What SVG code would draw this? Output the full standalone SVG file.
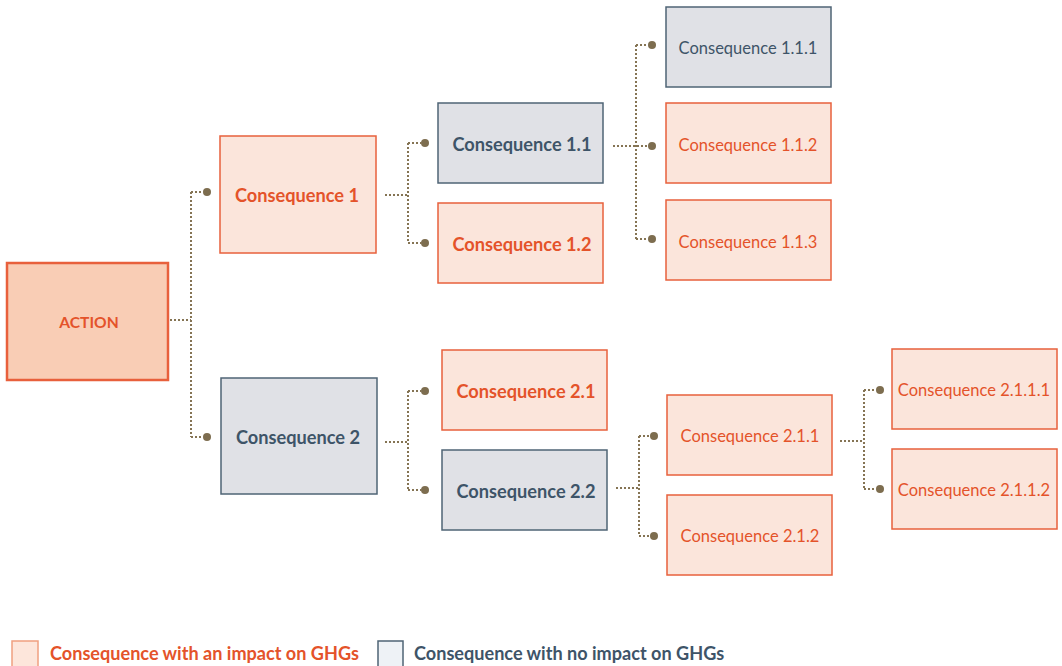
<svg xmlns="http://www.w3.org/2000/svg" width="1062" height="666" viewBox="0 0 1062 666">
  <style>
    .impact rect { fill: #fbe5db; stroke: #e8603c; stroke-width: 1.5; }
    .neutral rect { fill: #e0e1e6; stroke: #4f6475; stroke-width: 1.5; }
    .action rect { fill: #f9cdb5; stroke: #e8603c; stroke-width: 2.5; }
    text { font-family: Lato, "Liberation Sans", sans-serif; text-anchor: middle; }
    .impact text, .action text { fill: #e4532a; }
    .neutral text { fill: #3e5468; }
    .b { font-weight: 700; font-size: 18.2px; }
    .r { font-weight: 400; font-size: 16.5px; }
    #connectors path { fill: none; stroke: #857454; stroke-width: 2; stroke-dasharray: 2 2; }
    #connectors circle { fill: #7d6d4f; }
    .legend text { text-anchor: start; font-weight: 700; font-size: 18.1px; }
  </style>

  <!-- connectors -->
  <g id="connectors">
    <path d="M170 320 H191 M191 192 V437 M191 192 H203 M191 437 H203"/>
    <circle cx="207" cy="192" r="4"/>
    <circle cx="207" cy="437" r="4"/>

    <path d="M385 195 H408 M408 143 V243 M408 143 H421 M408 243 H421"/>
    <circle cx="425" cy="143" r="4"/>
    <circle cx="425" cy="243" r="4"/>

    <path d="M613 146 H648 M636 45 V239 M636 45 H648 M636 239 H648"/>
    <circle cx="652" cy="45" r="4"/>
    <circle cx="652" cy="146" r="4"/>
    <circle cx="652" cy="239" r="4"/>

    <path d="M385 442 H408 M408 391 V490 M408 391 H421 M408 490 H421"/>
    <circle cx="425" cy="391" r="4"/>
    <circle cx="425" cy="490" r="4"/>

    <path d="M616 488 H639 M639 436 V536 M639 436 H650 M639 536 H650"/>
    <circle cx="654" cy="436" r="4"/>
    <circle cx="654" cy="536" r="4"/>

    <path d="M840 441 H864 M864 390 V489 M864 390 H876 M864 489 H876"/>
    <circle cx="880" cy="390" r="4"/>
    <circle cx="880" cy="489" r="4"/>
  </g>

  <!-- nodes -->
  <g id="action" class="action">
    <rect x="7" y="263" width="161" height="117"/>
    <text class="b" x="89" y="328" style="font-size:15.6px">ACTION</text>
  </g>

  <g id="c1" class="impact">
    <rect x="220" y="136" width="156" height="117"/>
    <text class="b" x="297" y="202">Consequence 1</text>
  </g>
  <g id="c2" class="neutral">
    <rect x="221" y="378" width="156" height="116"/>
    <text class="b" x="298" y="444">Consequence 2</text>
  </g>

  <g id="c1-1" class="neutral">
    <rect x="438" y="103" width="165" height="80"/>
    <text class="b" x="522" y="151">Consequence 1.1</text>
  </g>
  <g id="c1-2" class="impact">
    <rect x="438" y="203" width="165" height="80"/>
    <text class="b" x="522" y="251">Consequence 1.2</text>
  </g>
  <g id="c2-1" class="impact">
    <rect x="442" y="350" width="165" height="80"/>
    <text class="b" x="526" y="398">Consequence 2.1</text>
  </g>
  <g id="c2-2" class="neutral">
    <rect x="442" y="450" width="165" height="80"/>
    <text class="b" x="526" y="498">Consequence 2.2</text>
  </g>

  <g id="c1-1-1" class="neutral">
    <rect x="666" y="7" width="165" height="80"/>
    <text class="r" x="748" y="54">Consequence 1.1.1</text>
  </g>
  <g id="c1-1-2" class="impact">
    <rect x="666" y="103" width="165" height="80"/>
    <text class="r" x="748" y="151">Consequence 1.1.2</text>
  </g>
  <g id="c1-1-3" class="impact">
    <rect x="666" y="200" width="165" height="80"/>
    <text class="r" x="748" y="248">Consequence 1.1.3</text>
  </g>
  <g id="c2-1-1" class="impact">
    <rect x="667" y="395" width="165" height="80"/>
    <text class="r" x="750" y="442">Consequence 2.1.1</text>
  </g>
  <g id="c2-1-2" class="impact">
    <rect x="667" y="495" width="165" height="80"/>
    <text class="r" x="750" y="542">Consequence 2.1.2</text>
  </g>

  <g id="c2-1-1-1" class="impact">
    <rect x="892" y="349" width="165" height="80"/>
    <text class="r" x="974" y="396">Consequence 2.1.1.1</text>
  </g>
  <g id="c2-1-1-2" class="impact">
    <rect x="892" y="449" width="165" height="80"/>
    <text class="r" x="974" y="496">Consequence 2.1.1.2</text>
  </g>

  <!-- legend -->
  <g id="legend-impact" class="legend">
    <rect x="12" y="641" width="26" height="26" fill="#fde6db" stroke="#f0a080" stroke-width="1.5"/>
    <text x="50" y="660" fill="#e4532a">Consequence with an impact on GHGs</text>
  </g>
  <g id="legend-neutral" class="legend">
    <rect x="378" y="641" width="25" height="26" fill="#eef2f6" stroke="#4f6475" stroke-width="1.5"/>
    <text x="414" y="660" fill="#3e5468">Consequence with no impact on GHGs</text>
  </g>
</svg>
